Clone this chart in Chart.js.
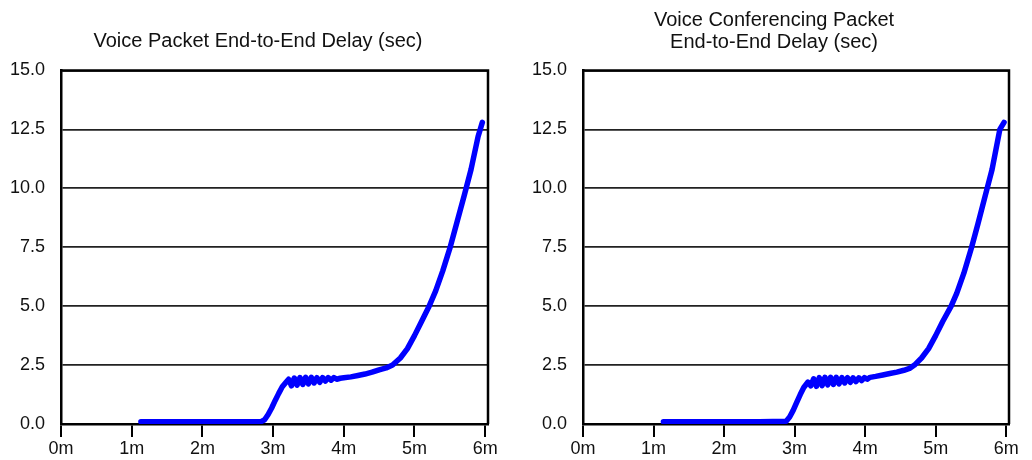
<!DOCTYPE html>
<html>
<head>
<meta charset="utf-8">
<script src="https://cdn.jsdelivr.net/npm/chart.js@4/dist/chart.umd.min.js"></script>
<style>
  html, body { margin: 0; padding: 0; background: #fff; }
  .wrap { position: relative; width: 1032px; height: 460px; }
  .box { position: absolute; top: 0; width: 516px; height: 460px; }
  #left { left: 0; }
  #right { left: 516px; }
</style>
</head>
<body>
<div class="wrap">
  <div class="box" id="left"><canvas id="voiceChart" width="516" height="460"></canvas></div>
  <div class="box" id="right"><canvas id="confChart" width="516" height="460"></canvas></div>
</div>
<script>
// simulation time (minutes) and end-to-end delay (sec)
const voiceTime = [1.13, 1.5, 2.0, 2.5, 2.83, 2.88, 2.93, 2.98, 3.03, 3.08, 3.13, 3.18,
  3.22, 3.26, 3.30, 3.34, 3.38, 3.42, 3.46, 3.50, 3.54, 3.58, 3.62, 3.66, 3.70, 3.74,
  3.78, 3.82, 3.86, 3.90, 3.95, 4.0, 4.1, 4.2, 4.3, 4.4, 4.5, 4.6, 4.69, 4.8, 4.9,
  5.0, 5.1, 5.2, 5.3, 5.4, 5.5, 5.6, 5.7, 5.8, 5.9, 5.96]
const voiceDelay = [0.1, 0.1, 0.1, 0.1, 0.1, 0.18, 0.4, 0.68, 1.0, 1.3, 1.58, 1.76,
  1.9, 1.62, 1.95, 1.65, 1.97, 1.68, 1.98, 1.7, 1.98, 1.74, 1.97, 1.77, 1.97, 1.82,
  1.97, 1.86, 1.97, 1.9, 1.94, 1.96, 2.0, 2.06, 2.12, 2.2, 2.3, 2.38, 2.5, 2.8, 3.2,
  3.75, 4.35, 4.95, 5.65, 6.5, 7.45, 8.55, 9.65, 10.8, 12.2, 12.8]

const confTime = [1.14, 1.5, 2.0, 2.5, 2.88, 2.93, 2.98, 3.03, 3.08, 3.13, 3.19,
  3.23, 3.27, 3.31, 3.35, 3.39, 3.43, 3.47, 3.51, 3.55, 3.59, 3.63, 3.67, 3.71, 3.75,
  3.79, 3.83, 3.87, 3.91, 3.95, 3.99, 4.03, 4.07, 4.15, 4.25, 4.35, 4.45, 4.55, 4.63,
  4.7, 4.8, 4.9, 5.0, 5.1, 5.22, 5.3, 5.4, 5.51, 5.6, 5.73, 5.8, 5.91, 5.97]
const confDelay = [0.1, 0.1, 0.1, 0.1, 0.12, 0.3, 0.58, 0.92, 1.25, 1.55, 1.78,
  1.62, 1.92, 1.6, 1.97, 1.63, 1.98, 1.66, 1.98, 1.68, 1.98, 1.7, 1.97, 1.74, 1.97,
  1.77, 1.96, 1.8, 1.96, 1.84, 1.97, 1.9, 1.98, 2.02, 2.08, 2.14, 2.2, 2.28, 2.36,
  2.5, 2.8, 3.2, 3.75, 4.35, 5.0, 5.55, 6.4, 7.5, 8.5, 10.0, 10.8, 12.5, 12.8]

const FONT = "'Liberation Sans', Arial, sans-serif"

// top and right border of the plot box
const framePlugin = {
  id: 'frame',
  afterDraw(chart) {
    const { ctx, chartArea: { left, top, right, bottom } } = chart
    ctx.save()
    ctx.strokeStyle = '#000'
    ctx.lineWidth = 2.5
    ctx.beginPath()
    ctx.moveTo(left, top)
    ctx.lineTo(right, top)
    ctx.lineTo(right, bottom)
    ctx.stroke()
    ctx.restore()
  }
}

function makeChart(canvas, times, delays, title, opts) {
  const points = times.map((t, i) => ({ x: t, y: delays[i] }))
  return new Chart(canvas, {
    type: 'line',
    data: {
      datasets: [{
        data: points,
        borderColor: '#0000ff',
        borderWidth: 5.5,
        pointRadius: 0,
        tension: 0,
        borderJoinStyle: 'round',
        borderCapStyle: 'round'
      }]
    },
    options: {
      responsive: false,
      animation: false,
      layout: { padding: 0 },
      plugins: {
        legend: { display: false },
        tooltip: { enabled: false },
        title: {
          display: true,
          text: title,
          color: '#111',
          font: { family: FONT, size: 20, weight: 'normal', lineHeight: 1.1 },
          padding: { top: opts.titleTop, bottom: opts.titleBottom }
        }
      },
      scales: {
        x: {
          type: 'linear',
          min: 0,
          max: 6.04,
          afterFit(scale) { scale.height = 36 },
          border: { display: true, color: '#000', width: 2.5 },
          grid: { drawOnChartArea: false, drawTicks: true, tickLength: 13, color: '#000', lineWidth: 2 },
          ticks: {
            stepSize: 1,
            includeBounds: false,
            padding: 1,
            color: '#111',
            font: { family: FONT, size: 18 },
            maxRotation: 0,
            callback: v => v + 'm'
          }
        },
        y: {
          min: 0,
          max: 15,
          afterFit(scale) { scale.width = opts.yWidth },
          border: { display: true, color: '#000', width: 2.5 },
          grid: { drawTicks: false, color: '#222', lineWidth: 1.8 },
          ticks: {
            stepSize: 2.5,
            padding: 16,
            color: '#111',
            font: { family: FONT, size: 18 },
            callback: v => v.toFixed(1)
          }
        },
        // empty axis that only reserves the white margin on the right
        yPad: {
          position: 'right',
          min: 0,
          max: 1,
          afterFit(scale) { scale.width = opts.padRight },
          border: { display: false },
          grid: { display: false },
          ticks: { display: false }
        }
      }
    },
    plugins: [framePlugin]
  })
}

makeChart(document.getElementById('voiceChart'), voiceTime, voiceDelay,
  'Voice Packet End-to-End Delay (sec)',
  { padRight: 28, yWidth: 61, titleTop: 30, titleBottom: 18.5 })

makeChart(document.getElementById('confChart'), confTime, confDelay,
  ['Voice Conferencing Packet', 'End-to-End Delay (sec)'],
  { padRight: 23, yWidth: 67, titleTop: 9, titleBottom: 17.5 })
</script>
</body>
</html>
